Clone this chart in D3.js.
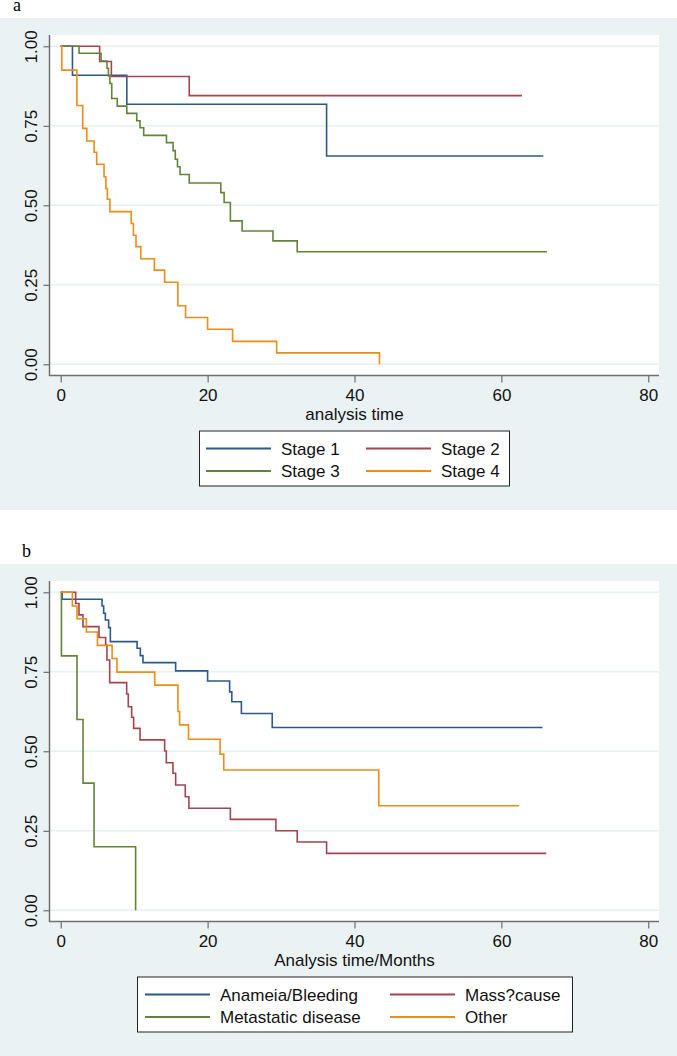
<!DOCTYPE html>
<html>
<head>
<meta charset="utf-8">
<script src="https://cdn.jsdelivr.net/npm/d3@7"></script>
<style>
  body { margin: 0; background: #fff; }
  svg { display: block; }
  text { font-family: "Liberation Sans", Arial, sans-serif; }
</style>
</head>
<body>
<svg id="chart"></svg>
<script>
// ---------------- data (Kaplan-Meier steps) ----------------
var xTicks = [0, 20, 40, 60, 80];
var yTicks = [0, 0.25, 0.5, 0.75, 1];

// panel a : by stage
var stageNames = ["Stage 1", "Stage 2", "Stage 3", "Stage 4"];
var stage1Time = [0, 1.6, 9.0, 36.2, 65.7];
var stage1Surv = [1, 0.909, 0.818, 0.655, 0.655];
var stage2Time = [0, 5.3, 6.9, 17.5, 62.8];
var stage2Surv = [1, 0.952, 0.905, 0.845, 0.845];
var stage3Time = [0, 2.5, 5.5, 6.3, 6.5, 6.7, 6.95, 7.7, 9.0, 10.35, 10.8, 11.3, 14.4, 15.3, 15.6, 15.9, 16.25, 17.5, 21.8, 22.25, 23.1, 24.7, 28.9, 32.2, 66.2];
var stage3Surv = [1, 0.978, 0.954, 0.931, 0.907, 0.883, 0.836, 0.812, 0.789, 0.766, 0.744, 0.720, 0.697, 0.672, 0.645, 0.621, 0.597, 0.570, 0.540, 0.509, 0.451, 0.419, 0.388, 0.354, 0.354];
var stage4Time = [0, 0.15, 2.2, 3.0, 3.55, 4.55, 4.9, 5.9, 6.15, 6.35, 6.7, 9.6, 9.9, 10.25, 10.9, 12.75, 14.15, 15.95, 17.0, 20.0, 23.4, 29.4, 43.4];
var stage4Surv = [1, 0.925, 0.814, 0.742, 0.702, 0.667, 0.629, 0.590, 0.553, 0.519, 0.480, 0.443, 0.406, 0.370, 0.332, 0.296, 0.258, 0.184, 0.147, 0.110, 0.072, 0.036, 0];

// panel b : by presentation
var causeNames = ["Anameia/Bleeding", "Mass?cause", "Metastatic disease", "Other"];
var bleedTime = [0, 0.2, 5.63, 5.85, 6.08, 6.53, 6.76, 10.4, 10.84, 11.2, 15.65, 20.0, 23.0, 23.3, 24.6, 28.8, 65.6];
var bleedSurv = [1, 0.978, 0.957, 0.934, 0.913, 0.889, 0.845, 0.824, 0.801, 0.779, 0.753, 0.721, 0.687, 0.656, 0.619, 0.575, 0.575];
var massTime = [0, 2.04, 2.49, 3.03, 5.21, 6.12, 6.3, 6.67, 8.98, 9.2, 9.66, 9.93, 10.8, 14.15, 14.38, 15.28, 15.65, 16.96, 17.46, 23.1, 29.3, 32.2, 36.2, 66.1];
var massSurv = [1, 0.965, 0.929, 0.892, 0.858, 0.834, 0.787, 0.716, 0.680, 0.640, 0.607, 0.572, 0.536, 0.501, 0.464, 0.431, 0.394, 0.357, 0.321, 0.286, 0.250, 0.215, 0.179, 0.179];
var metaTime = [0, 0.1, 2.22, 3.04, 4.54, 10.2];
var metaSurv = [1, 0.8, 0.6, 0.4, 0.2, 0];
var otherTime = [0, 1.59, 2.22, 3.5, 5.0, 7.0, 7.66, 12.8, 15.96, 16.19, 17.4, 21.7, 22.2, 43.3, 62.4];
var otherSurv = [1, 0.957, 0.917, 0.875, 0.833, 0.792, 0.749, 0.708, 0.625, 0.583, 0.538, 0.491, 0.441, 0.329, 0.329];

var colors = ["#2c5987", "#a3454f", "#62843a", "#ee8c14"];

// ---------------- drawing ----------------
var W = 677, H = 1056;
var svg = d3.select("#chart").attr("width", W).attr("height", H);

function zip(t, s) {
    return t.map(function(d, i) { return { t: d, s: s[i] }; });
}

function drawPanel(cfg) {
    var top = cfg.top; // vertical shift of the whole panel
    var g = svg.append("g").attr("transform", "translate(0," + top + ")");

    // grey outer region
    g.append("rect").attr("x", 0).attr("y", cfg.bgTop).attr("width", W).attr("height", cfg.bgBottom - cfg.bgTop)
        .attr("fill", "#eaf2f3");

    // panel letter
    svg.append("text").attr("x", cfg.letterX).attr("y", top + 11)
        .style("font-family", "'Liberation Serif', 'Times New Roman', serif")
        .style("font-size", "18px").attr("fill", "#000").text(cfg.letter);

    // white plot region
    g.append("rect").attr("x", 50).attr("y", 35).attr("width", 609).attr("height", 340).attr("fill", "#fff");

    var x = d3.scaleLinear().domain([0, 80]).range([60.7, 648.3]);
    var y = d3.scaleLinear().domain([0, 1]).range([364.3, 46.3]);

    // grid
    g.selectAll(".grid").data(yTicks).enter().append("line")
        .attr("x1", 50).attr("x2", 659)
        .attr("y1", function(d) { return y(d); }).attr("y2", function(d) { return y(d); })
        .attr("stroke", "#e8f0f2").attr("stroke-width", 1.5);

    // curves
    var line = d3.line()
        .x(function(d) { return x(d.t); })
        .y(function(d) { return y(d.s); })
        .curve(d3.curveStepAfter);

    cfg.series.forEach(function(s, i) {
        g.append("path").datum(zip(s[0], s[1]))
            .attr("fill", "none").attr("stroke", colors[i])
            .attr("stroke-width", 1.6).attr("d", line);
    });

    // axes
    var yAxis = d3.axisLeft(y).tickValues(yTicks).tickFormat(d3.format(".2f")).tickSize(6).tickPadding(3);
    var ya = g.append("g").attr("transform", "translate(49.5,0)").call(yAxis);
    ya.select(".domain").remove();
    ya.selectAll("line").attr("stroke", "#555");
    ya.selectAll("text")
        .attr("x", null).attr("dy", null)
        .attr("text-anchor", "middle")
        .attr("transform", "translate(-12.5,0) rotate(-90)")
        .style("font-size", "17px").attr("fill", "#111");

    var xAxis = d3.axisBottom(x).tickValues(xTicks).tickSize(7).tickPadding(6);
    var xa = g.append("g").attr("transform", "translate(0,375.5)").call(xAxis);
    xa.select(".domain").remove();
    xa.selectAll("line").attr("stroke", "#555");
    xa.selectAll("text").style("font-size", "17px").attr("fill", "#111");

    // axis lines
    g.append("line").attr("x1", 49.5).attr("x2", 49.5).attr("y1", 35).attr("y2", 376)
        .attr("stroke", "#6f6f6f").attr("stroke-width", 1.5);
    g.append("line").attr("x1", 49).attr("x2", 659).attr("y1", 375.5).attr("y2", 375.5)
        .attr("stroke", "#6f6f6f").attr("stroke-width", 1.5);

    // x title
    g.append("text").attr("x", 354.5).attr("y", cfg.titleY).attr("text-anchor", "middle")
        .style("font-size", "17px").attr("fill", "#111").text(cfg.xTitle);

    // legend
    var lg = cfg.legend;
    g.append("rect").attr("x", lg.x0).attr("y", 431).attr("width", lg.x1 - lg.x0).attr("height", 55)
        .attr("fill", "#fff").attr("stroke", "#222").attr("stroke-width", 1);
    cfg.names.forEach(function(n, i) {
        var col = i % 2, row = Math.floor(i / 2);
        var lx = lg.cols[col], cy = 448.5 + row * 22.5;
        g.append("line").attr("x1", lx).attr("x2", lx + 65).attr("y1", cy).attr("y2", cy)
            .attr("stroke", colors[i]).attr("stroke-width", 2);
        g.append("text").attr("x", lx + 75).attr("y", cy).attr("dy", "0.36em")
            .style("font-size", "17px").attr("fill", "#111").text(n);
    });
}

drawPanel({
    top: 0, bgTop: 18, bgBottom: 510, letter: "a", letterX: 13,
    xTitle: "analysis time", titleY: 419.5,
    names: stageNames,
    series: [[stage1Time, stage1Surv], [stage2Time, stage2Surv], [stage3Time, stage3Surv], [stage4Time, stage4Surv]],
    legend: { x0: 199.5, x1: 509.5, cols: [206, 366] }
});

drawPanel({
    top: 546, bgTop: 18, bgBottom: 510, letter: "b", letterX: 22,
    xTitle: "Analysis time/Months", titleY: 419.5,
    names: causeNames,
    series: [[bleedTime, bleedSurv], [massTime, massSurv], [metaTime, metaSurv], [otherTime, otherSurv]],
    legend: { x0: 137.5, x1: 572.5, cols: [145, 390] }
});
</script>
</body>
</html>
